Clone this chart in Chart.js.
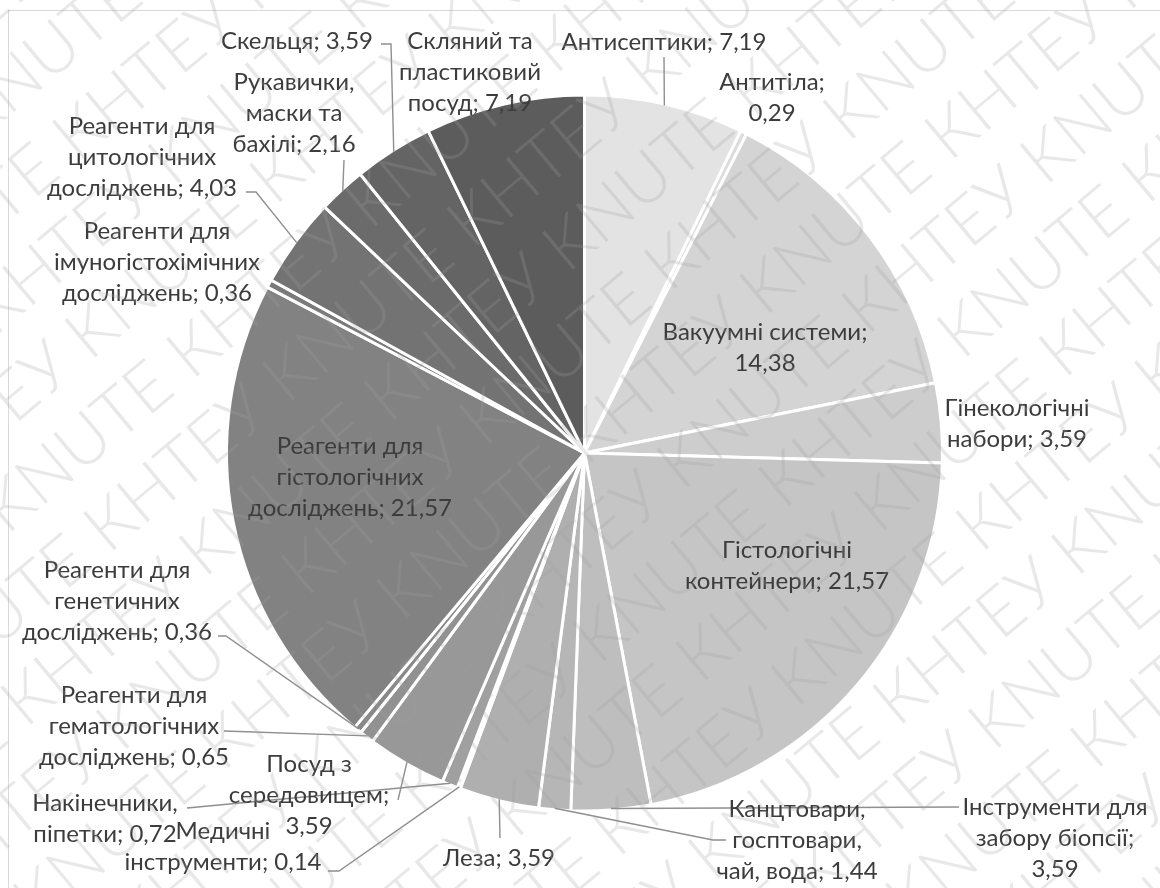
<!DOCTYPE html>
<html lang="uk">
<head>
<meta charset="utf-8">
<title>Структура закупівель</title>
<script src="https://cdn.jsdelivr.net/npm/chart.js@4.4.0/dist/chart.umd.min.js"></script>
<style>
  html, body { margin: 0; padding: 0; background: #fff; }
  #wrap { width: 1160px; height: 888px; }
</style>
</head>
<body>
<div id="wrap"><canvas id="pieChart" width="1160" height="888"></canvas></div>
<script>
// --- дані ---
const categories = [
    'Антисептики', 'Антитіла', 'Вакуумні системи', 'Гінекологічні набори',
    'Гістологічні контейнери', 'Інструменти для забору біопсії',
    'Канцтовари, госптовари, чай, вода', 'Леза', 'Медичні інструменти',
    'Накінечники, піпетки', 'Посуд з середовищем',
    'Реагенти для гематологічних досліджень', 'Реагенти для генетичних досліджень',
    'Реагенти для гістологічних досліджень', 'Реагенти для імуногістохімічних досліджень',
    'Реагенти для цитологічних досліджень', 'Рукавички, маски та бахілі',
    'Скельця', 'Скляний та пластиковий посуд'
];
const shares = [7.19, 0.29, 14.38, 3.59, 21.57, 3.59, 1.44, 3.59, 0.14, 0.72,
                3.59, 0.65, 0.36, 21.57, 0.36, 4.03, 2.16, 3.59, 7.19];

// відтінки сірого від світлого до темного
const sliceColors = [
    '#e3e3e3', '#dcdcdc', '#d4d4d4', '#cdcdcd', '#c5c5c5', '#bebebe', '#b6b6b6',
    '#afafaf', '#a7a7a7', '#a0a0a0', '#989898', '#919191', '#898989', '#828282',
    '#7a7a7a', '#737373', '#6b6b6b', '#646464', '#5c5c5c'
];

// --- розміщення підписів (зміщення від центру круга) ---
// wrap: скільки слів у кожному рядку; leader: точки виноски від підпису до сектора
const labelLayout = [
    { dx: 79.5,   dy: -411, wrap: [2],       leader: [[79.5, -396]] },
    { dx: 187.5,  dy: -371, wrap: [1, 1] },
    { dx: 180.5,  dy: -121, wrap: [2, 1] },
    { dx: 432.5,  dy: -45,  wrap: [1, 2] },
    { dx: 202.5,  dy: 97,   wrap: [1, 2] },
    { dx: 470.5,  dy: 354,  wrap: [2, 2, 1], leader: [[374.5, 354]] },
    { dx: 212.5,  dy: 356,  wrap: [1, 1, 3], leader: [[141.5, 387], [128.5, 387]] },
    { dx: -85.5,  dy: 405,  wrap: [2],       leader: [[-84.5, 385]] },
    { dx: -361.5, dy: 378,  wrap: [1, 2],    leader: [[-256.5, 418], [-245.5, 418]] },
    { dx: -479.5, dy: 350,  wrap: [1, 2],    leader: [[-397.5, 355]] },
    { dx: -275.5, dy: 311,  wrap: [2, 1, 1], leader: [[-186.5, 347]] },
    { dx: -450.5, dy: 242,  wrap: [2, 1, 2], leader: [[-360.5, 278]] },
    { dx: -467.5, dy: 117,  wrap: [2, 1, 2], leader: [[-366.5, 183], [-358.5, 183]] },
    { dx: -234.5, dy: -7,   wrap: [2, 1, 2] },
    { dx: -427.5, dy: -222, wrap: [2, 1, 2] },
    { dx: -442.5, dy: -327, wrap: [2, 1, 2], leader: [[-338.5, -261], [-328.5, -261]] },
    { dx: -290.5, dy: -371, wrap: [1, 2, 2], leader: [[-240.5, -293]] },
    { dx: -287.5, dy: -412, wrap: [2],       leader: [[-203.5, -409], [-193.5, -409]] },
    { dx: -114.5, dy: -412, wrap: [2, 1, 2] }
];

const LABEL_FONT = '24px Lato';
const LINE_H = 31;

function fmt(v) {
    return v.toFixed(2).replace('.', ',');
}

// рамка області діаграми
const framePlugin = {
    id: 'frame',
    beforeDraw(chart) {
        const ctx = chart.ctx;
        ctx.save();
        ctx.strokeStyle = '#d9d9d9';
        ctx.lineWidth = 1;
        ctx.strokeRect(8.5, 10.5, 1300, 1000);
        ctx.restore();
    }
};

// підписи секторів з виносками
const labelPlugin = {
    id: 'sliceLabels',
    afterDatasetsDraw(chart) {
        const ctx = chart.ctx;
        const meta = chart.getDatasetMeta(0);
        ctx.save();
        ctx.font = LABEL_FONT;
        ctx.textAlign = 'center';
        ctx.textBaseline = 'middle';
        meta.data.forEach(function (arc, i) {
            const p = arc.getProps(['x', 'y', 'startAngle', 'endAngle', 'outerRadius'], true);
            const lay = labelLayout[i];
            const mid = (p.startAngle + p.endAngle) / 2;
            const r = p.outerRadius - 1.5;

            if (lay.leader) {
                ctx.beginPath();
                ctx.strokeStyle = '#8f8f8f';
                ctx.lineWidth = 1.4;
                ctx.moveTo(p.x + lay.leader[0][0], p.y + lay.leader[0][1]);
                for (let j = 1; j < lay.leader.length; j++) {
                    ctx.lineTo(p.x + lay.leader[j][0], p.y + lay.leader[j][1]);
                }
                ctx.lineTo(p.x + Math.cos(mid) * r, p.y + Math.sin(mid) * r);
                ctx.stroke();
            }

            const words = (categories[i] + '; ' + fmt(shares[i])).split(' ');
            let k = 0;
            ctx.fillStyle = '#3c3c3c';
            lay.wrap.forEach(function (n, j) {
                const line = words.slice(k, k + n).join(' ');
                k += n;
                ctx.fillText(line, p.x + lay.dx, p.y + lay.dy + j * LINE_H);
            });
        });
        ctx.restore();
    }
};

// водяний знак
const watermarkPlugin = {
    id: 'watermark',
    afterDraw(chart) {
        const ctx = chart.ctx;
        ctx.save();
        ctx.fillStyle = 'rgba(158,158,158,0.24)';
        ctx.font = '300 68px Lato';
        ctx.textBaseline = 'middle';
        ctx.translate(580, 444);
        ctx.rotate(-40 * Math.PI / 180);
        const phrase = 'KNUTE КНТЕУ ';
        const w = ctx.measureText(phrase).width;
        for (let row = -14; row <= 14; row++) {
            const shift = ((row * 0.37) % 1 + 1) % 1 * w;
            for (let x = -1200 - shift; x < 1200; x += w) {
                ctx.fillText(phrase, x, row * 80);
            }
        }
        ctx.restore();
    }
};

document.addEventListener('DOMContentLoaded', function () {
    const canvas = document.getElementById('pieChart');
    new Chart(canvas, {
        type: 'pie',
        data: {
            labels: categories,
            datasets: [{
                data: shares,
                backgroundColor: sliceColors,
                borderColor: '#ffffff',
                borderWidth: 3,
                radius: 358
            }]
        },
        options: {
            responsive: false,
            animation: false,
            devicePixelRatio: 1,
            layout: { padding: { left: 10, right: 1, top: 20, bottom: 2 } },
            plugins: {
                legend: { display: false },
                tooltip: { enabled: false }
            }
        },
        plugins: [framePlugin, labelPlugin, watermarkPlugin]
    });
});
</script>
</body>
</html>
